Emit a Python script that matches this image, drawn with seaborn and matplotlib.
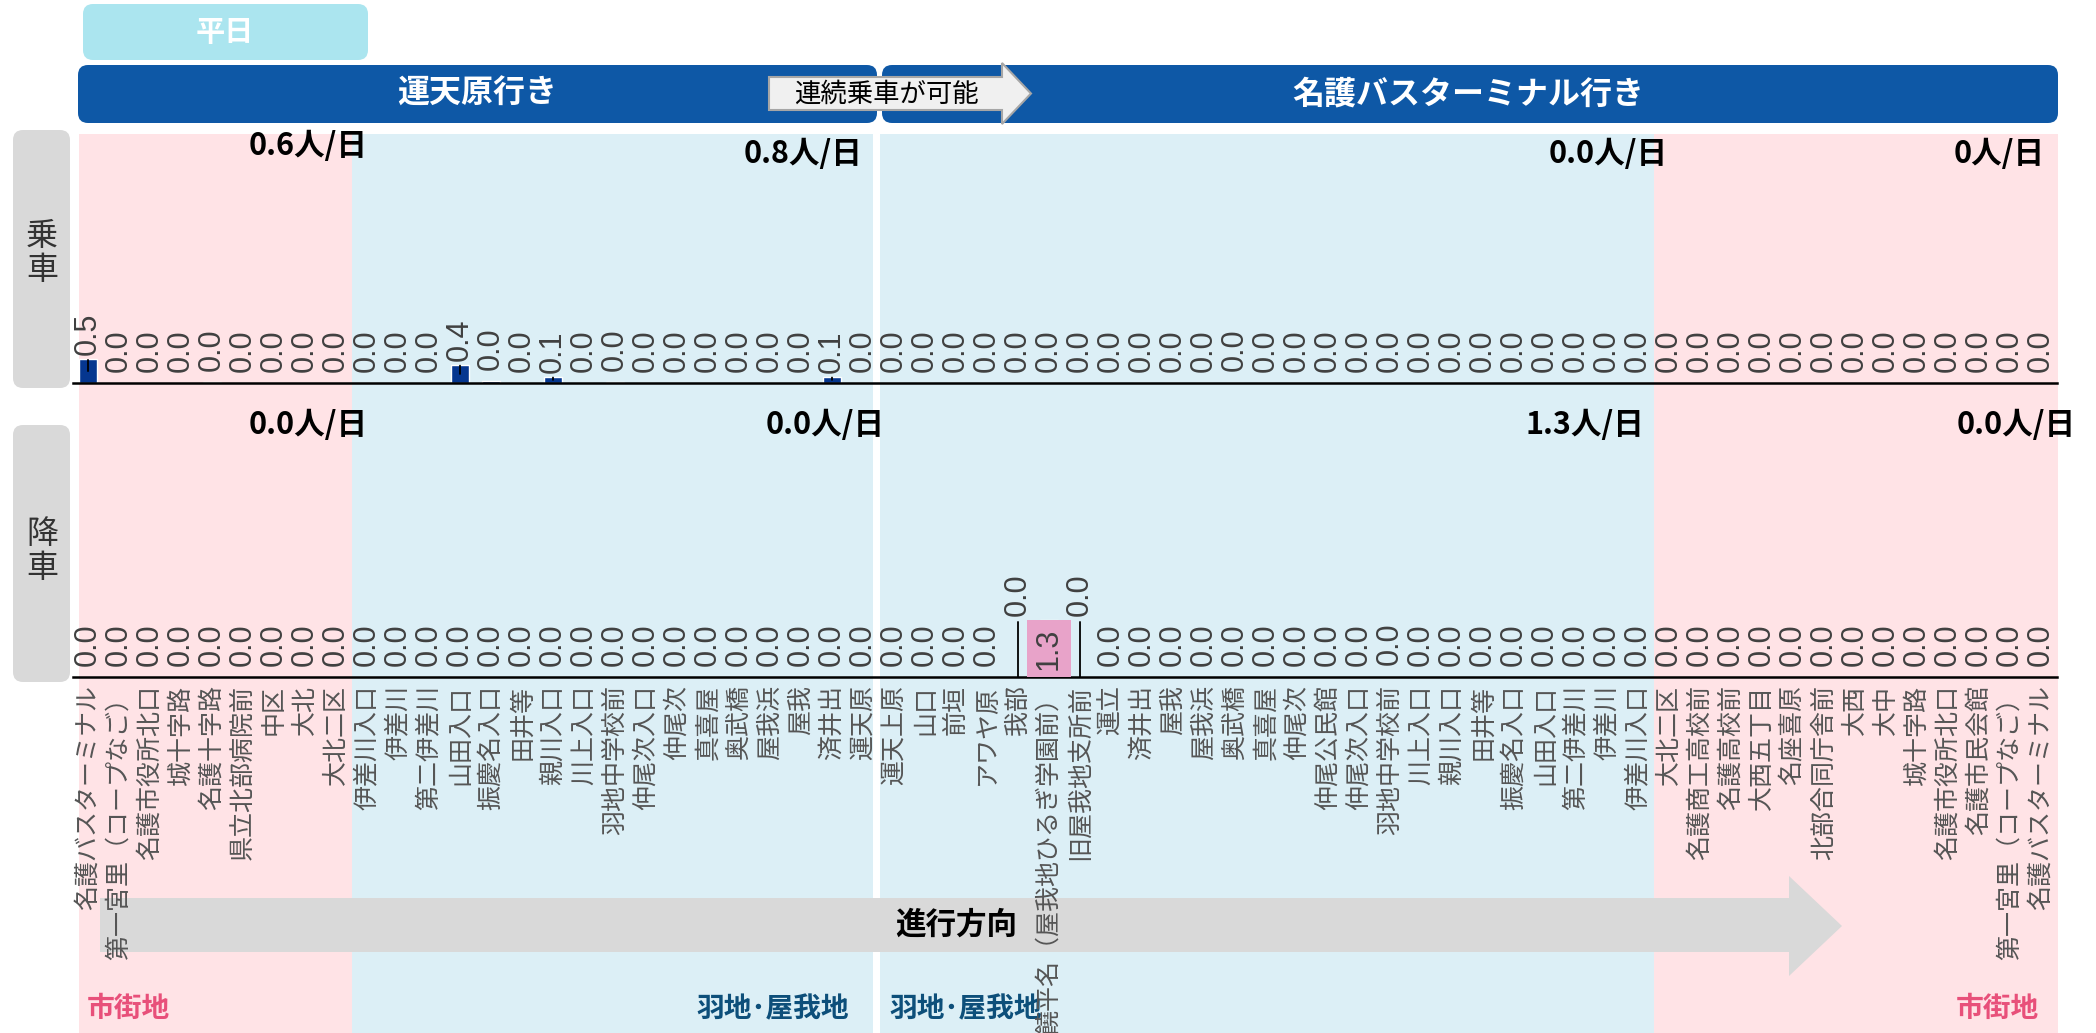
import numpy as np
import pandas as pd
import matplotlib.pyplot as plt
import seaborn as sns
from matplotlib.patches import Rectangle, FancyBboxPatch, Polygon
from matplotlib.transforms import blended_transform_factory

# 停留所（運天原行き → 名護バスターミナル行き）
stops_out = ["名護バスターミナル", "第一宮里（コープなご）", "名護市役所北口", "城十字路", "名護十字路",
             "県立北部病院前", "中区", "大北", "大北二区",
             "伊差川入口", "伊差川", "第二伊差川", "山田入口", "振慶名入口", "田井等", "親川入口",
             "川上入口", "羽地中学校前", "仲尾次入口", "仲尾次", "真喜屋", "奥武橋", "屋我浜", "屋我",
             "済井出", "運天原"]
stops_in = ["運天上原", "山口", "前垣", "アワヤ原", "我部", "饒平名（屋我地ひるぎ学園前）", "旧屋我地支所前",
            "運立", "済井出", "屋我", "屋我浜", "奥武橋", "真喜屋", "仲尾次", "仲尾公民館", "仲尾次入口",
            "羽地中学校前", "川上入口", "親川入口", "田井等", "振慶名入口", "山田入口", "第二伊差川",
            "伊差川", "伊差川入口",
            "大北二区", "名護商工高校前", "名護高校前", "大西五丁目", "名座喜原", "北部合同庁舎前", "大西",
            "大中", "城十字路", "名護市役所北口", "名護市民会館", "第一宮里（コープなご）", "名護バスターミナル"]

# 乗車・降車（人/日）
board_out = [0.54, 0, 0, 0, 0.03, 0, 0, 0, 0,
             0, 0, 0, 0.41, 0.04, 0, 0.14, 0, 0.03, 0, 0, 0, 0, 0, 0, 0.14, 0]
board_in = [0] * 11 + [0.01] + [0] * 26
alight_out = [0] * 26
alight_in = [0] * 5 + [1.3] + [0] * 10 + [0.01] + [0] * 21

board_totals = ["0.6", "0.8", "0.0", "0"]
alight_totals = ["0.0", "0.0", "1.3", "0.0"]
zone_names = ["市街地", "羽地･屋我地", "羽地･屋我地", "市街地"]
directions = ["運天原行き", "名護バスターミナル行き"]

stops = stops_out + stops_in
df = pd.DataFrame({"idx": np.arange(len(stops)), "stop": stops,
                   "board": board_out + board_in, "alight": alight_out + alight_in})

W, H = 2096, 1033
PINK, BLUE, NAVY = "#FFE3E6", "#DCEFF6", "#05368F"
HEAD = "#0E58A6"

sns.set_style("white")
plt.rcParams["font.family"] = ["Noto Sans CJK JP", "DejaVu Sans"]

fig = plt.figure(figsize=(W / 100, H / 100), dpi=100)


def axrect(x0, y0, x1, y1):
    return [x0 / W, 1 - y1 / H, (x1 - x0) / W, (y1 - y0) / H]


def box_px(x0, y0, x1, y1, color, z, r=0.1):
    p = FancyBboxPatch((x0 / 100, (H - y1) / 100), (x1 - x0) / 100, (y1 - y0) / 100,
                       boxstyle=f"round,pad=0,rounding_size={r}", transform=fig.dpi_scale_trans,
                       fc=color, ec="none", zorder=z)
    fig.add_artist(p)


def poly_px(pts, fc, ec, z):
    p = Polygon([(x / 100, (H - y) / 100) for x, y in pts], closed=True,
                transform=fig.dpi_scale_trans, fc=fc, ec=ec, lw=1.5, zorder=z)
    fig.add_artist(p)


def ftext(px, py, s, **kw):
    fig.text(px / W, 1 - py / H, s, **kw)


PPU = 44  # px je 1人
ax_up = fig.add_axes(axrect(72.5, 134, 2056.5, 383))
ax_dn = fig.add_axes(axrect(72.5, 405, 2056.5, 677))
ylims = {ax_up: 249 / PPU, ax_dn: 272 / PPU}

for ax, col in [(ax_up, "board"), (ax_dn, "alight")]:
    sns.barplot(data=df, x="idx", y=col, native_scale=True, width=0.6, color=NAVY,
                saturation=1, errorbar=None, ax=ax)
    ax.set_xlim(-0.5, len(stops) - 0.5)
    ax.set_ylim(0, ylims[ax])
    ax.set_facecolor("none")
    for s in ["top", "right", "left"]:
        ax.spines[s].set_visible(False)
    ax.spines["bottom"].set_linewidth(1.8)
    ax.spines["bottom"].set_color("black")
    ax.set_yticks([])
    ax.set_xlabel("")
    ax.set_ylabel("")
    ax.set_xticks(df["idx"])
    ax.tick_params(axis="x", direction="in", length=4, width=1.2, color="black", pad=6)

    vals = df[col].tolist()
    big = [i for i, v in enumerate(vals) if v >= 1]
    lab = dict(rotation=90, ha="center", fontsize=22, family="Liberation Sans", color="#404040")
    for i, v in enumerate(vals):
        t = f"{v:.1f}"
        if i in big:
            ax.text(i, v / 2, t, va="center", zorder=4,
                    bbox=dict(boxstyle="square,pad=0.24", fc="#E8A3C9", ec="none"), **lab)
        elif any(abs(i - b) == 1 for b in big):
            ax.annotate(t, xy=(i, 0), xytext=(0, 44), textcoords="offset points", va="bottom",
                        arrowprops=dict(arrowstyle="-", color="black", lw=1.3, shrinkA=2, shrinkB=0), **lab)
        elif v >= 0.05:
            ax.annotate(t, xy=(i, v / 2), xytext=(0, (v / 2 * PPU + 4) * 0.72), textcoords="offset points",
                        va="bottom", arrowprops=dict(arrowstyle="-", color="black", lw=1.3, shrinkA=1, shrinkB=0),
                        **lab)
        else:
            ax.annotate(t, xy=(i, v), xytext=(0, 8), textcoords="offset points", va="bottom", **lab)

ax_up.tick_params(axis="x", labelbottom=False)
ax_dn.set_xticklabels(df["stop"], rotation=90, fontsize=18, color="#555555")

# 背景（市街地・羽地･屋我地）
trans = blended_transform_factory(ax_dn.transData, fig.transFigure)
spans = [(-0.3, 8.5), (8.5, 25.33), (25.55, 50.5), (50.5, 63.55)]
for (x0, x1), c in zip(spans, [PINK, BLUE, BLUE, PINK]):
    fig.add_artist(Rectangle((x0, 0), x1 - x0, 1 - 134 / H, transform=trans, fc=c, ec="none", zorder=-3))

# 合計
tot_kw = dict(fontsize=22, fontweight="bold", color="black", ha="right", va="center")
for x, y, s in zip([368, 862, 1668, 2045], [146, 154, 154, 154], board_totals):
    ftext(x, y, s + "人/日", **tot_kw)
for x, s in zip([368, 885, 1644, 2076], alight_totals):
    ftext(x, 425, s + "人/日", **tot_kw)

# 見出し
box_px(83, 4, 368, 60, "#ABE5EF", 2)
ftext(225, 32, "平日", fontsize=21, fontweight="bold", color="white", ha="center", va="center")
box_px(78, 65, 877, 123, HEAD, 2)
box_px(882, 65, 2058, 123, HEAD, 2)
ftext(477, 94, directions[0], fontsize=23, fontweight="bold", color="white", ha="center", va="center")
ftext(1468, 94, directions[1], fontsize=23, fontweight="bold", color="white", ha="center", va="center")
poly_px([(769, 77), (1002, 77), (1002, 63), (1031, 93.5), (1002, 124), (1002, 110), (769, 110)],
        "#F0F0F0", "#A6A6A6", 3)
ftext(886, 94, "連続乗車が可能", fontsize=19, color="black", ha="center", va="center", zorder=4)

# 乗車 / 降車
box_px(13, 130, 70, 388, "#D9D9D9", 2)
box_px(13, 425, 70, 682, "#D9D9D9", 2)
ftext(42, 253, "乗\n車", fontsize=23, color="#333333", ha="center", va="center", linespacing=1.1)
ftext(42, 551, "降\n車", fontsize=23, color="#333333", ha="center", va="center", linespacing=1.1)

# 進行方向
poly_px([(100, 898), (1789, 898), (1789, 876), (1842, 926), (1789, 976), (1789, 952), (100, 952)],
        "#D9D9D9", "none", -2)
ftext(956, 925, "進行方向", fontsize=22, fontweight="bold", color="black", ha="center", va="center", zorder=-1)

# 地域名
zkw = dict(fontsize=20, fontweight="bold", va="center", zorder=-1)
ftext(87, 1009, zone_names[0], color="#E8507A", ha="left", **zkw)
ftext(849, 1009, zone_names[1], color="#0D4F7A", ha="right", **zkw)
ftext(889, 1009, zone_names[2], color="#0D4F7A", ha="left", **zkw)
ftext(2039, 1009, zone_names[3], color="#E8507A", ha="right", **zkw)

fig.savefig("out.png", dpi=100)
